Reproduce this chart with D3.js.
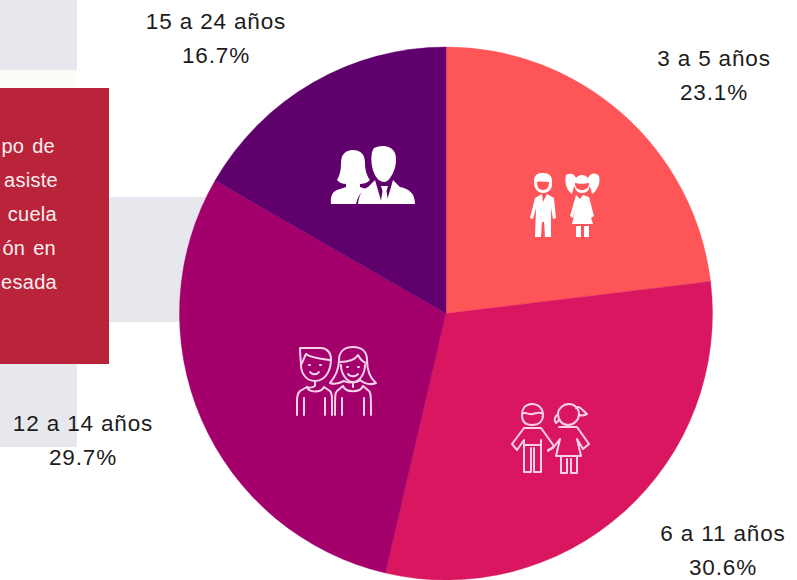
<!DOCTYPE html>
<html><head><meta charset="utf-8">
<script src="https://cdn.jsdelivr.net/npm/d3@7"></script>
<style>html,body{margin:0;padding:0;background:#fff}svg{display:block}text{font-family:"Liberation Sans",Arial,sans-serif}</style>
</head><body><svg id="c" width="797" height="580"></svg>
<script>
const categories = ["3 a 5 años","6 a 11 años","12 a 14 años","15 a 24 años"];
const values = [23.1,30.6,29.7,16.7];
const colors = ["#fe5558","#d9165f","#a3006b","#5f006d"];
const labelPos = [[714,59],[723,534],[83,424],[216,22]];
const boxLines = [["po de",55,153],["asiste",58,187],["cuela",57,221],["ón en",56,255],["esada",57,289]];

const svg = d3.select("#c");
const bg = svg.append("g");
[[0,0,77,70,"#e7e8ed"],[0,70,77,18,"#fdfbf7"],[100,197,120,125,"#e7e8ed"],[0,360,77,87,"#e7e8ed"]]
 .forEach(r=>bg.append("rect").attr("x",r[0]).attr("y",r[1]).attr("width",r[2]).attr("height",r[3]).attr("fill",r[4]));
bg.append("rect").attr("x",0).attr("y",88).attr("width",109).attr("height",276).attr("fill","#b9243a");
boxLines.forEach(l=>bg.append("text").attr("x",l[1]).attr("y",l[2]).attr("text-anchor","end")
  .attr("font-size",20).attr("letter-spacing",0.3).attr("word-spacing",2).attr("fill","#fbeef0").text(l[0]));

const cx=446, cy=313.5, R=266.5;
const pie = d3.pie().sort(null).value(d=>d)(values);
const arc = d3.arc().innerRadius(0).outerRadius(R);
const g = svg.append("g").attr("transform",`translate(${cx},${cy})`);
g.selectAll("path").data(pie).join("path").attr("d",arc).attr("fill",(d,i)=>colors[i])
  .attr("stroke",(d,i)=>colors[i]).attr("stroke-width",0.4);

const labels = svg.append("g");
categories.forEach((c,i)=>{
  const [x,y]=labelPos[i];
  const t=labels.append("text").attr("text-anchor","middle").attr("font-size",22.5)
    .attr("letter-spacing",0.85).attr("fill","#1c1c1c");
  t.append("tspan").attr("x",x).attr("y",y+7).text(c);
  t.append("tspan").attr("x",x).attr("y",y+41).text(values[i].toFixed(1)+"%");
});

// Solid icon: school kids
const a = svg.append("g").attr("transform","translate(530,172)").attr("fill","#fff");
a.append("path").attr("d","M5 26 L12 22 L13 30 L17 22 L24 26 L26 46 L23 47 L21 36 L21 65 L15 65 L14 50 L12 50 L11 65 L5 65 L6 36 L3 47 L0 46 Z");
a.append("path").attr("fill-rule","evenodd").attr("d","M4 10 C4 2 8 1 13 1 C19 1 23 4 22 12 C22 18 18 21 13 21 C8 21 4 17 4 10 Z M7 10 C7 15 9 18 13 18 C17 18 19 15 19 10 C15 10 10 9 7 10 Z");
a.append("path").attr("fill-rule","evenodd").attr("d","M36 3 C41 0 45 3 46 6 C49 2 55 2 58 6 C60 1 66 0 69 4 C71 11 67 19 62 22 L60 14 C58 20 56 21 52 21 C48 21 46 19 44 14 L42 22 C37 19 34 10 36 3 Z M45 11 C45 16 48 18 52 18 C56 18 59 16 59 11 C55 12 49 12 45 11 Z");
a.append("path").attr("d","M46 23 L50 27 L53 23 L59 25 L64 44 L61 46 L58 36 L63 52 L42 52 L46 36 L43 46 L40 44 Z");
a.append("path").attr("d","M46 54 H51 V65 H46 Z M54 54 H59 V65 H54 Z");

// Solid icon: adults
const b = svg.append("g").attr("transform","translate(330,145)").attr("fill","#fff");
b.append("path").attr("d","M23 5 C31 5 35 10 35 18 C35 25 37 31 40 35 C37 38 33 39 30 39 L30 42 L36 44 C31 47 28 51 26 59 L1 59 C0 52 2 47 7 45 L16 42 L16 39 C13 39 10 38 7 35 C10 30 11 25 11 18 C11 10 15 5 23 5 Z");
b.append("path").attr("d","M44 3 C52 -1 62 1 65 8 C67 14 66 22 63 28 C61 32 58 37 54 37 C50 37 46 33 44 28 C41 21 40 8 44 3 Z");
b.append("path").attr("d","M45 35 L52 59 L28 59 C29 49 33 44 38 42 Z M63 35 L56 59 L85 59 C85 48 79 44 70 42 Z");
b.append("path").attr("d","M51 41 H58 L56.5 46 L58.5 59 H50.5 L52.5 46 Z");

const st = {fill:"none",stroke:"#f6d2ea","stroke-width":2,"stroke-linejoin":"round","stroke-linecap":"round"};
function lineIcon(x,y,ds){
  const n=svg.append("g").attr("transform",`translate(${x},${y})`);
  ds.forEach(d=>{const p=n.append("path").attr("d",d);Object.entries(st).forEach(([k,v])=>p.attr(k,v));});
}
// Teen couple
lineIcon(297,345,[
 "M3 3 H24 C30 3 34 8 34 14 C34 26 28 36 18 36 C9 36 4 28 4 20 C4 16 3 12 3 3 Z",
 "M4 20 C7 14 8 11 9 9 C14 13 24 14 33 15",
 "M18 36 V41 C15 43 11 43 10 42 L3 46 C1 48 0 50 0 55 V70",
 "M10 42 C12 48 24 48 27 42 L33 46 C35 48 35 50 35 55 V70",
 "M7 53 V70 M28 53 V70",
 "M12 20 h1 M23 20 h1 M13 27 C15 30 20 30 22 27",
 "M56 2 C46 2 42 8 42 15 C42 24 38 32 33 38 C38 40 43 38 47 36 C50 38 60 38 63 35 C68 39 74 40 79 38 C73 33 70 24 70 15 C70 7 65 2 56 2 Z",
 "M43 17 C50 17 58 15 61 10 C63 14 66 17 69 18",
 "M44 20 C44 28 49 37 56 37 C63 37 68 28 68 20",
 "M50 22 h1 M61 22 h1 M51 29 C53 32 59 32 61 29",
 "M56 37 V42 M46 41 C49 48 63 48 66 41 L72 46 C74 48 74 52 74 70",
 "M46 41 L40 46 C38 48 38 50 38 70 M45 53 V70 M67 53 V70"
]);
// Children holding hands
lineIcon(512,402,[
 "M20 2 C27 2 31 7 31 13 C31 19 27 23 20 23 C13 23 10 19 10 13 C10 7 13 2 20 2 Z",
 "M10 12 C14 9 15 13 20 12 C24 12 26 9 31 12",
 "M12 26 H29 L42 44 L36 49",
 "M12 26 L0 42 L5 48 L12 38 V43 H29 V38",
 "M12 43 V70 H19 V46 M22 46 V70 H29 V43",
 "M57 2 C63 2 67 7 67 12 C67 18 62 23 56 23 C50 23 46 18 46 12 C46 7 51 2 57 2 Z",
 "M64 6 C67 3 70 8 75 12 C71 14 69 14 67 13",
 "M46 12 C42 15 42 19 44 21 C46 19 47 18 48 18",
 "M47 25 H65 L77 42 L71 47 L65 37 L69 54 H44 L48 37 L41 46 L36 48",
 "M49 54 V71 H55 V57 M59 57 V71 H65 V54"
]);
</script></body></html>
